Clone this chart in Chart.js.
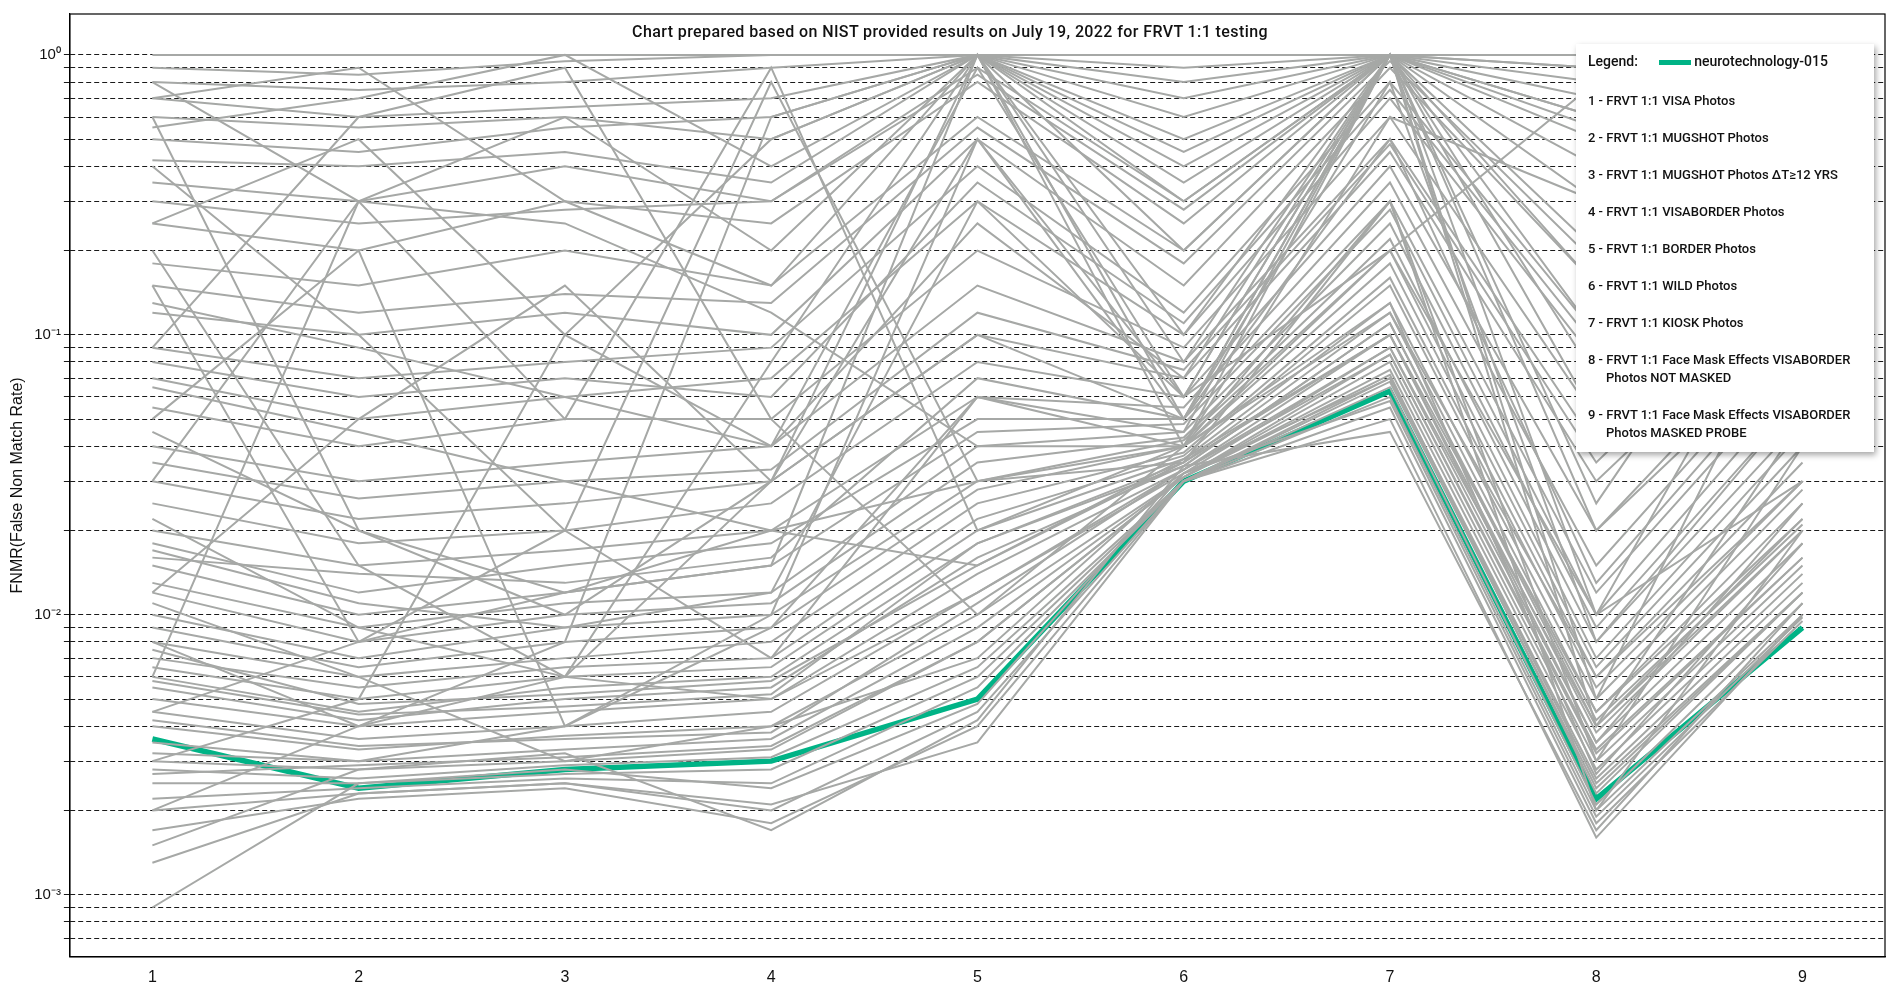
<!DOCTYPE html>
<html><head><meta charset="utf-8">
<script src="https://cdn.jsdelivr.net/npm/chart.js@4"></script>
<style>
body{margin:0;background:#fff;font-family:Roboto,"DejaVu Sans",sans-serif}
#wrap{position:relative;width:1900px;height:1000px}
#title{position:absolute;top:22px;left:0;width:1900px;text-align:center;font-size:16px;color:#111;letter-spacing:0.4px;font-weight:500}
#legend{position:absolute;left:1576px;top:44px;width:298px;background:#fff;box-shadow:2px 3px 6px rgba(0,0,0,0.35);font-size:13px;font-weight:500;color:#111;padding:8px 12px;box-sizing:border-box}
#legend div{margin:0 0 19px 0;line-height:18px}
#legend .sub{padding-left:18px}
</style></head><body>
<div id="wrap"><canvas id="c" width="1900" height="1000"></canvas>
<div id="title">Chart prepared based on NIST provided results on July 19, 2022 for FRVT 1:1 testing</div>
<div id="legend">
<div style="font-size:14px;margin-bottom:22px">Legend:&nbsp;&nbsp;&nbsp;&nbsp;&nbsp;&nbsp;<span style="display:inline-block;width:32px;height:5px;background:#00b386;vertical-align:middle"></span> <b style="font-weight:500">neurotechnology-015</b></div>
<div>1 - FRVT 1:1 VISA Photos</div>
<div>2 - FRVT 1:1 MUGSHOT Photos</div>
<div>3 - FRVT 1:1 MUGSHOT Photos ΔT≥12 YRS</div>
<div>4 - FRVT 1:1 VISABORDER  Photos</div>
<div>5 - FRVT 1:1 BORDER Photos</div>
<div>6 - FRVT 1:1 WILD Photos</div>
<div>7 - FRVT 1:1 KIOSK Photos</div>
<div>8 - FRVT 1:1 Face Mask Effects VISABORDER<br><span class="sub">Photos NOT MASKED</span></div>
<div style="margin-bottom:2px">9 - FRVT 1:1 Face Mask Effects VISABORDER<br><span class="sub">Photos MASKED PROBE</span></div>
</div></div>
<script>
const categories=[1,2,3,4,5,6,7,8,9];
const neuro=[0.0036,0.0024,0.0028,0.003,0.005,0.030,0.063,0.0022,0.009];
const others=[
[1,1,1,1,1,1,1,1,1],
[0.9,0.85,0.95,1,1,0.6,1,0.9,1],
[0.8,0.75,0.8,0.9,1,0.7,1,1,1],
[0.7,0.6,0.65,0.7,1,0.5,1,0.8,1],
[0.6,0.55,0.6,0.5,1,0.45,1,0.7,1],
[0.5,0.45,0.55,0.6,1,0.4,1,0.6,0.9],
[0.42,0.4,0.45,0.35,1,0.35,1,0.55,0.85],
[0.35,0.3,0.4,0.3,0.9,0.3,1,0.5,0.8],
[0.3,0.25,0.28,0.3,0.85,0.28,1,0.4,0.75],
[0.25,0.2,0.3,0.25,0.8,0.25,1,0.3,0.7],
[0.18,0.15,0.2,0.15,0.6,0.2,1,0.2,0.6],
[0.15,0.12,0.14,0.13,0.55,0.18,0.95,0.18,0.55],
[0.12,0.1,0.12,0.1,0.5,0.15,0.9,0.15,0.5],
[0.09,0.07,0.08,0.09,0.4,0.12,0.8,0.1,0.4],
[0.08,0.06,0.07,0.06,0.35,0.11,0.75,0.09,0.35],
[0.07,0.05,0.06,0.07,0.3,0.1,0.7,0.08,0.3],
[0.055,0.04,0.05,0.05,0.2,0.09,0.6,0.05,0.25],
[0.04,0.03,0.035,0.04,0.15,0.08,0.5,0.04,0.2],
[0.035,0.026,0.03,0.033,0.12,0.075,0.48,0.035,0.18],
[0.03,0.022,0.025,0.03,0.1,0.07,0.45,0.03,0.15],
[0.025,0.018,0.02,0.025,0.08,0.06,0.4,0.02,0.12],
[0.02,0.015,0.017,0.02,0.06,0.055,0.35,0.015,0.1],
[0.018,0.012,0.015,0.018,0.05,0.05,0.3,0.012,0.08],
[0.015,0.01,0.012,0.015,0.045,0.048,0.28,0.01,0.07],
[0.013,0.009,0.011,0.012,0.04,0.045,0.25,0.009,0.06],
[0.012,0.008,0.01,0.011,0.035,0.043,0.22,0.008,0.05],
[0.01,0.007,0.009,0.01,0.03,0.042,0.2,0.007,0.045],
[0.009,0.0065,0.008,0.009,0.028,0.04,0.18,0.0065,0.04],
[0.008,0.006,0.007,0.008,0.025,0.038,0.16,0.006,0.035],
[0.007,0.0055,0.0065,0.007,0.022,0.037,0.15,0.0055,0.03],
[0.0065,0.005,0.006,0.0065,0.02,0.036,0.13,0.005,0.028],
[0.006,0.0045,0.0055,0.006,0.018,0.035,0.12,0.0045,0.025],
[0.0055,0.0042,0.005,0.0055,0.016,0.034,0.11,0.004,0.022],
[0.005,0.004,0.0045,0.005,0.014,0.033,0.1,0.0038,0.02],
[0.0045,0.0036,0.004,0.0045,0.012,0.032,0.09,0.0035,0.018],
[0.004,0.0033,0.0037,0.004,0.01,0.031,0.085,0.0032,0.016],
[0.0035,0.003,0.0033,0.0036,0.009,0.031,0.08,0.003,0.015],
[0.003,0.0028,0.003,0.0033,0.008,0.031,0.075,0.0028,0.014],
[0.0028,0.0026,0.0029,0.0031,0.0065,0.03,0.07,0.0026,0.013],
[0.0025,0.0025,0.0027,0.0028,0.006,0.03,0.068,0.0024,0.012],
[0.0022,0.0024,0.0026,0.0025,0.0055,0.03,0.065,0.0021,0.011],
[0.002,0.0023,0.0025,0.002,0.0045,0.03,0.06,0.002,0.01],
[0.0017,0.0022,0.0024,0.0018,0.004,0.03,0.055,0.0018,0.0095],
[0.0013,0.0023,0.0025,0.0021,0.0035,0.03,0.05,0.0016,0.01],
[0.0009,0.0025,0.0028,0.0024,0.0048,0.032,0.058,0.0019,0.0098],
[0.0015,0.0028,0.0032,0.0017,0.0042,0.034,0.045,0.0017,0.011],
[0.011,0.006,0.003,0.004,0.007,0.032,0.07,0.0025,0.012],
[0.022,0.009,0.006,0.005,0.012,0.033,0.09,0.004,0.02],
[0.045,0.02,0.012,0.02,0.03,0.04,0.12,0.006,0.03],
[0.8,0.3,0.05,0.9,0.02,0.04,0.2,0.8,1],
[0.003,0.005,0.1,0.5,1,0.04,1,0.01,0.03],
[0.6,0.02,0.01,0.03,1,0.05,1,1,1],
[0.25,0.5,0.1,0.04,0.9,0.06,1,0.05,0.5],
[0.006,0.3,0.6,0.2,1,0.1,1,0.02,0.1],
[0.15,0.008,0.02,0.8,0.03,0.035,0.3,0.003,0.04],
[0.002,0.004,0.008,0.6,1,0.2,1,0.9,1],
[0.09,0.6,0.9,0.05,0.01,0.04,0.6,0.3,0.9],
[0.4,0.1,0.02,0.007,0.06,0.045,1,0.004,0.05],
[0.05,0.2,0.004,0.01,0.5,0.06,0.2,0.01,0.2],
[0.012,0.05,0.15,0.03,0.1,0.05,1,0.07,0.6],
[0.2,0.015,0.006,0.08,1,0.3,1,0.6,0.4],
[0.03,0.3,0.25,0.12,0.04,0.04,0.3,0.002,0.02],
[0.0045,0.008,0.012,0.015,1,0.08,1,0.15,0.9],
[0.008,0.004,0.006,0.03,0.5,0.05,0.8,0.008,0.06],
[0.7,0.9,0.3,0.15,1,0.8,1,0.025,0.3],
[0.0032,0.003,0.004,0.009,0.06,0.04,0.13,0.0027,0.018],
[0.017,0.011,0.009,0.012,0.3,0.06,1,0.005,0.15],
[0.065,0.045,0.03,0.02,0.015,0.035,0.1,0.0035,0.025],
[0.0075,0.0048,0.0052,0.0058,0.015,0.036,0.1,0.0045,0.022],
[0.0042,0.0034,0.0036,0.0038,0.011,0.033,0.085,0.0033,0.016],
[0.13,0.09,0.06,0.04,0.25,0.07,1,0.1,0.8],
[0.55,0.7,1,0.4,1,0.9,1,1,1],
[0.0027,0.0029,0.0031,0.0034,0.008,0.031,0.072,0.0023,0.012],
[0.0058,0.0044,0.0047,0.0052,0.018,0.034,0.11,0.0042,0.021],
[0.016,0.014,0.013,0.016,0.07,0.05,0.5,0.013,0.09]
];
const yTicks=[1,0.1,0.01,0.001];
const ds=[];
others.forEach(v=>ds.push({data:v.map((y,i)=>({x:categories[i],y})),borderColor:'#a6a8a6',borderWidth:2,pointRadius:0,tension:0}));
ds.push({data:neuro.map((y,i)=>({x:categories[i],y})),borderColor:'#00b386',borderWidth:5.5,pointRadius:0,tension:0});
const sup={'-':'⁻','0':'⁰','1':'¹','2':'²','3':'³'};
new Chart(document.getElementById('c'),{type:'line',data:{datasets:ds},
options:{responsive:false,animation:false,events:[],
layout:{padding:{top:14,right:15,left:4,bottom:10}},
plugins:{legend:{display:false},tooltip:{enabled:false}},
scales:{
x:{type:'linear',min:0.6,max:9.4,afterBuildTicks:a=>{a.ticks=categories.map(v=>({value:v}));},
 ticks:{font:{size:16},color:'#111'},grid:{display:false,drawTicks:true},border:{color:'#000',width:1.2}},
y:{type:'logarithmic',min:0.00064,max:1.4,
 afterBuildTicks:a=>{const t=[];for(let e=-4;e<=0;e++)for(let m=1;m<10;m++){const v=m*Math.pow(10,e);if(v>=0.00064&&v<=1.4)t.push({value:v});}a.ticks=t;},
 ticks:{font:{size:15},color:'#111',autoSkip:false,callback:v=>{const e=Math.round(Math.log10(v));return yTicks.some(t=>Math.abs(t-v)/v<1e-6)?'10'+String(e).split('').map(c=>sup[c]).join(''):'';}},
 grid:{color:'#000',lineWidth:0.9,tickLength:6,drawOnChartArea:true},
 border:{color:'#000',width:1.2,dash:[5,3]},
 title:{display:true,text:'FNMR(False Non Match Rate)',font:{size:16},color:'#111'}}
}},
plugins:[{id:'frame',afterDraw(c){const a=c.chartArea,x=c.ctx;x.save();x.strokeStyle='#000';x.lineWidth=1.2;x.setLineDash([]);x.strokeRect(a.left,a.top,a.right-a.left,a.bottom-a.top);x.restore();}}]
});
</script></body></html>
